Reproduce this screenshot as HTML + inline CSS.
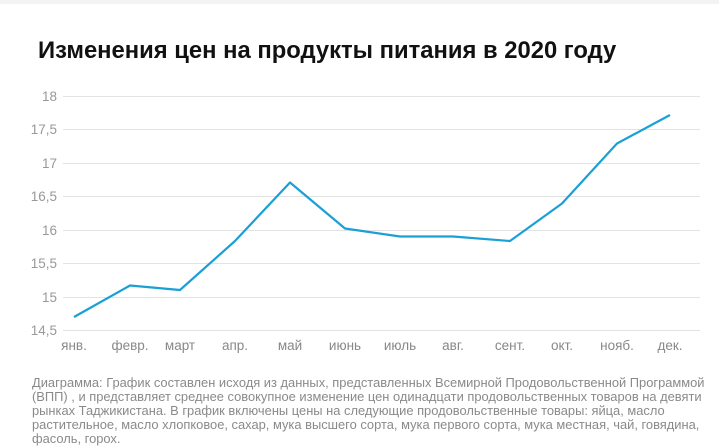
<!DOCTYPE html>
<html><head><meta charset="utf-8"><style>
body{margin:0;width:719px;height:447px;background:#fff;overflow:hidden;font-family:"Liberation Sans",Arial,sans-serif;position:relative}
.top{position:absolute;left:0;top:0;width:719px;height:4px;background:#f3f3f3}
.t{position:absolute;left:38px;top:37px;font-size:23.8px;font-weight:bold;color:#111;letter-spacing:0px;white-space:nowrap}
.c{position:absolute;left:32px;top:376px;font-size:12.9px;line-height:14px;color:#8a8a8a;white-space:nowrap}
</style></head><body>
<div class="top"></div>
<div class="t">Изменения цен на продукты питания в 2020 году</div>
<svg width="719" height="447" style="position:absolute;left:0;top:0">
<g stroke="#e3e3e3" stroke-width="1">
<line x1="63" x2="700" y1="96.5" y2="96.5"/><line x1="63" x2="700" y1="129.5" y2="129.5"/>
<line x1="63" x2="700" y1="163.5" y2="163.5"/><line x1="63" x2="700" y1="196.5" y2="196.5"/>
<line x1="63" x2="700" y1="230.5" y2="230.5"/><line x1="63" x2="700" y1="263.5" y2="263.5"/>
<line x1="63" x2="700" y1="297.5" y2="297.5"/><line x1="63" x2="700" y1="330.5" y2="330.5"/>
</g>
<g font-size="13.5" fill="#999" text-anchor="end">
<text x="57" y="101">18</text><text x="57" y="134">17,5</text><text x="57" y="168">17</text>
<text x="57" y="201">16,5</text><text x="57" y="235">16</text><text x="57" y="268">15,5</text>
<text x="57" y="302">15</text><text x="57" y="335">14,5</text>
</g>
<g font-size="13.5" fill="#888" text-anchor="middle">
<text x="74" y="350">янв.</text><text x="130" y="350">февр.</text><text x="180" y="350">март</text>
<text x="235" y="350">апр.</text><text x="290" y="350">май</text><text x="345" y="350">июнь</text>
<text x="400" y="350">июль</text><text x="453" y="350">авг.</text><text x="510" y="350">сент.</text>
<text x="562" y="350">окт.</text><text x="617" y="350">нояб.</text><text x="670" y="350">дек.</text>
</g>
<polyline fill="none" stroke="#1aa0d6" stroke-width="2.2" stroke-linejoin="round" points="74,317 130,285.5 180,290 235,241 290,182.5 345,228.5 400,236.5 453,236.5 510,241 562,203.5 617,143.5 670,115"/>
</svg>
<div class="c">Диаграмма: График составлен исходя из данных, представленных Всемирной Продовольственной Программой<br>(ВПП) , и представляет среднее совокупное изменение цен одинадцати продовольственных товаров на девяти<br>рынках Таджикистана. В график включены цены на следующие продовольственные товары: яйца, масло<br>растительное, масло хлопковое, сахар, мука высшего сорта, мука первого сорта, мука местная, чай, говядина,<br>фасоль, горох.</div>
</body></html>
